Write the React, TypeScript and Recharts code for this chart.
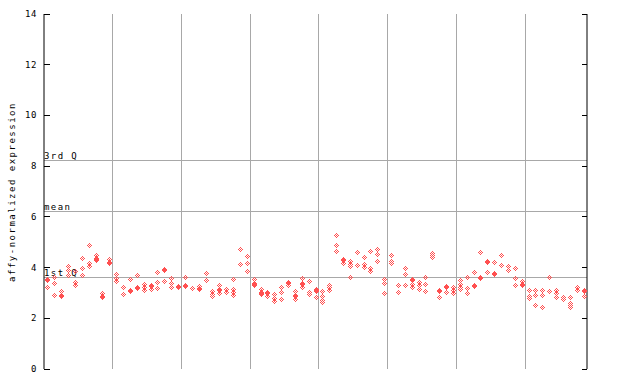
import React from "react";
import {
  ScatterChart,
  Scatter,
  XAxis,
  YAxis,
  ReferenceLine,
} from "recharts";

// replicate values per sample (79 samples)
const SAMPLES: number[][] = [
  [3.52, 3.56, 3.22],
  [3.64, 3.4, 2.92],
  [3.08, 2.9, 2.87],
  [4.07, 3.89, 3.72],
  [3.88, 3.44, 3.32],
  [4.37, 3.99, 3.7],
  [4.89, 4.17, 4.07],
  [4.48, 4.36, 4.33, 4.28],
  [2.99, 2.88, 2.85],
  [4.33, 4.21, 4.18],
  [3.75, 3.58, 3.47],
  [3.25, 2.95],
  [3.53, 3.12, 3.07],
  [3.7, 3.25, 3.21],
  [3.35, 3.25, 3.13],
  [3.31, 3.28, 3.14],
  [3.84, 3.45, 3.18],
  [3.93, 3.9, 3.49],
  [3.57, 3.4, 3.23],
  [3.28, 3.25],
  [3.62, 3.3, 3.27],
  [3.21, 3.18],
  [3.28, 3.19, 3.17],
  [3.78, 3.5],
  [3.08, 2.96, 2.86],
  [3.3, 3.15, 3.12, 3.01],
  [3.17, 3.14, 3.05],
  [3.53, 3.15, 3.05, 2.91],
  [4.75, 4.72, 4.14],
  [4.45, 4.17, 3.86],
  [3.53, 3.4, 3.37, 3.32],
  [3.16, 3.04, 3.0, 2.95],
  [3.02, 2.99, 2.86],
  [2.95, 2.81, 2.67],
  [3.22, 3.05, 2.76],
  [3.44, 3.4, 3.32],
  [3.08, 2.93, 2.89, 2.77],
  [3.58, 3.4, 3.37, 3.23],
  [3.49, 3.05, 2.96],
  [3.17, 3.1, 3.07, 2.83],
  [3.08, 2.87, 2.74, 2.65],
  [3.31, 3.22, 3.12],
  [5.28, 4.89, 4.67],
  [4.33, 4.3, 4.17],
  [4.26, 4.15, 4.08, 3.62],
  [4.63, 4.6, 4.1],
  [4.41, 4.16, 4.13, 4.04],
  [4.65, 3.97, 3.88],
  [4.72, 4.55, 4.24],
  [3.53, 3.38, 2.99],
  [4.5, 4.27, 4.17],
  [3.33, 3.03],
  [3.97, 3.73, 3.33],
  [3.56, 3.52, 3.36, 3.25],
  [3.43, 3.3, 3.16],
  [3.62, 3.35, 3.08],
  [4.59, 4.49, 4.4],
  [3.1, 3.07, 2.85],
  [3.27, 3.24, 3.05],
  [3.25, 3.12, 2.99],
  [3.51, 3.37, 3.25, 3.17],
  [3.62, 3.18, 2.99],
  [3.84, 3.3, 3.27],
  [4.6, 3.62, 3.58],
  [4.25, 4.22, 3.81],
  [4.22, 3.79, 3.74],
  [4.49, 4.12],
  [4.08, 4.05, 3.92],
  [3.97, 3.58, 3.32],
  [3.49, 3.36, 3.33],
  [3.12, 2.87, 2.8],
  [3.12, 2.93, 2.52],
  [3.12, 2.93, 2.43],
  [3.62, 3.08],
  [3.12, 3.01, 2.85],
  [2.85, 2.76],
  [2.85, 2.61, 2.51, 2.43],
  [3.22, 3.13],
  [3.1, 3.07, 2.86],
];

const GROUP_BOUNDS = [10, 20, 30, 40, 50, 60, 70];
const Y_TICKS = [0, 2, 4, 6, 8, 10, 12, 14];
const QUARTILES = [
  { label: "3rd Q", value: 8.23 },
  { label: "mean", value: 6.22 },
  { label: "1st Q", value: 3.62 },
];

const RED = "#ff5050";
const GRID = "#a8a8a8";
const FONT = "'DejaVu Sans Mono', monospace";
const PLOT_LEFT = 44;
const PLOT_RIGHT = 587;

const points = SAMPLES.flatMap((vals, i) =>
  vals.map((v) => ({ x: i + 0.5, y: v }))
);

// checkered 5x5 pixel diamond
function Diamond(props: any) {
  const { cx, cy } = props;
  if (cx == null || cy == null) return null;
  const px = Math.round(cx);
  const py = Math.round(cy);
  const cells: React.ReactNode[] = [];
  for (let dy = -2; dy <= 2; dy++) {
    const w = 2 - Math.abs(dy);
    for (let dx = -w; dx <= w; dx++) {
      if ((dx + dy) % 2 !== 0) continue;
      cells.push(
        <rect
          key={`${dx}_${dy}`}
          x={px + dx}
          y={py + dy}
          width={1}
          height={1}
          fill={RED}
          shapeRendering="crispEdges"
        />
      );
    }
  }
  return <g>{cells}</g>;
}

function LeftTick(props: any) {
  const { y, payload } = props;
  return (
    <g>
      <line x1={PLOT_LEFT} x2={PLOT_LEFT + 6} y1={y} y2={y} stroke="#000" shapeRendering="crispEdges" />
      <text
        x={PLOT_LEFT - 7}
        y={y}
        dy={3}
        textAnchor="end"
        fontSize={9}
        letterSpacing={0.6}
        fontFamily={FONT}
        fill="#000"
      >
        {payload.value}
      </text>
    </g>
  );
}

function RightTick(props: any) {
  const { y } = props;
  return (
    <line x1={PLOT_RIGHT - 5} x2={PLOT_RIGHT} y1={y} y2={y} stroke="#000" shapeRendering="crispEdges" />
  );
}

function QLabel(props: any) {
  const { viewBox, text } = props;
  if (!viewBox) return null;
  return (
    <text
      x={viewBox.x}
      y={viewBox.y - 1.5}
      fontSize={9}
      letterSpacing={1.4}
      fontFamily={FONT}
      fill="#000"
    >
      {text}
    </text>
  );
}

function YLabel() {
  return (
    <text
      x={15}
      y={192}
      transform="rotate(-90, 15, 192)"
      textAnchor="middle"
      fontSize={9}
      letterSpacing={1.5}
      fontFamily={FONT}
      fill="#000"
    >
      affy-normalized expression
    </text>
  );
}

export default function App() {
  return (
    <div style={{ position: "absolute", left: 0, top: 0, width: 640, height: 384, background: "#fff" }}>
      <ScatterChart
        width={640}
        height={384}
        margin={{ top: 14, right: 0, bottom: 15, left: 0 }}
      >
        <XAxis type="number" dataKey="x" domain={[0, SAMPLES.length]} hide />
        <YAxis
          yAxisId="l"
          type="number"
          dataKey="y"
          domain={[0, 14]}
          ticks={Y_TICKS}
          width={44}
          axisLine={{ stroke: "#000" }}
          tickLine={false}
          tick={<LeftTick />}
          label={<YLabel />}
          allowDataOverflow
        />
        <YAxis
          yAxisId="r"
          orientation="right"
          type="number"
          domain={[0, 14]}
          ticks={Y_TICKS}
          width={53}
          axisLine={{ stroke: "#000" }}
          tickLine={false}
          tick={<RightTick />}
          allowDataOverflow
        />
        {GROUP_BOUNDS.map((b) => (
          <ReferenceLine
            key={`v${b}`}
            yAxisId="l"
            x={b}
            stroke={GRID}
            strokeWidth={1}
            shapeRendering="crispEdges"
          />
        ))}
        {QUARTILES.map((q) => (
          <ReferenceLine
            key={q.label}
            yAxisId="l"
            y={q.value}
            stroke={GRID}
            strokeWidth={1}
            shapeRendering="crispEdges"
            label={<QLabel text={q.label} />}
          />
        ))}
        <Scatter
          yAxisId="l"
          data={points}
          fill={RED}
          shape={(p: any) => <Diamond {...p} />}
          isAnimationActive={false}
        />
      </ScatterChart>
    </div>
  );
}
